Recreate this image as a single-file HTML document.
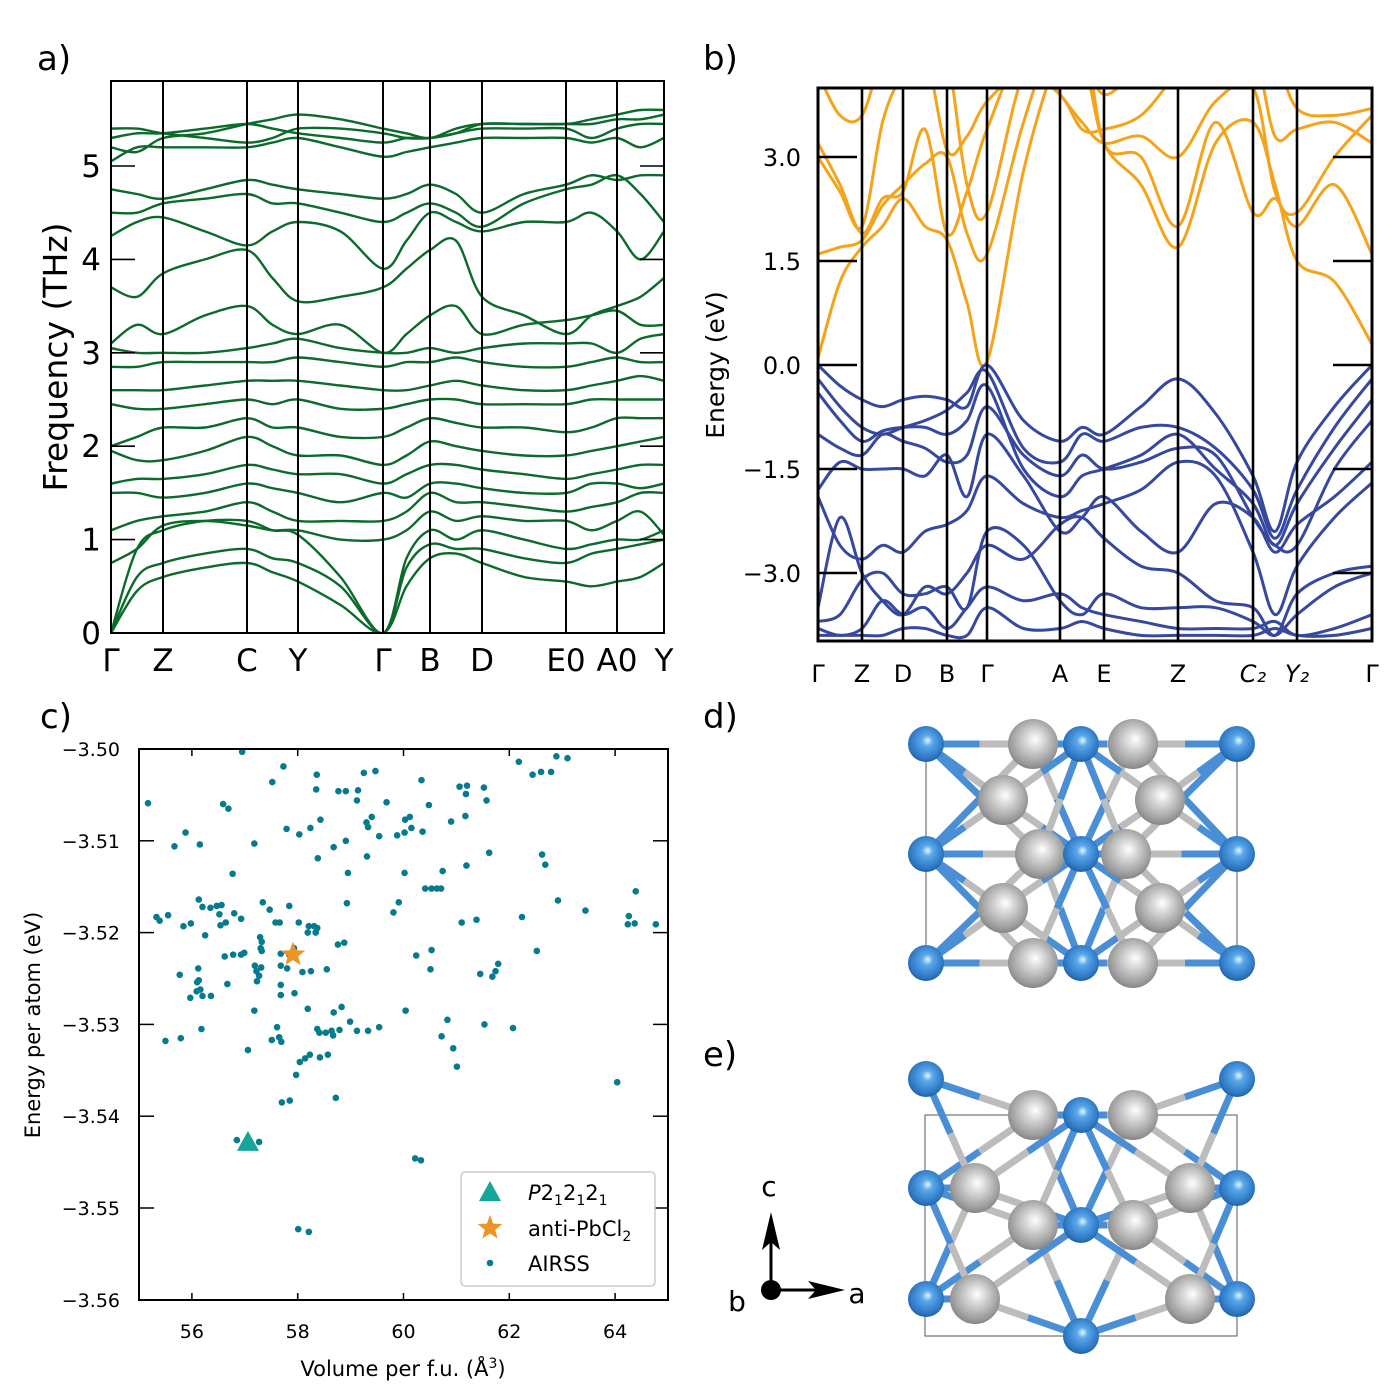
<!DOCTYPE html>
<html><head><meta charset="utf-8">
<style>
html,body{margin:0;padding:0;background:#fff;}
svg{display:block;font-family:"DejaVu Sans","Liberation Sans",sans-serif;}
</style></head>
<body>
<svg id="fig" width="1400" height="1400" viewBox="0 0 1400 1400">
<defs>
<radialGradient id="gGrey" cx="0.5" cy="0.45" r="0.6" fx="0.55" fy="0.4">
<stop offset="0" stop-color="#ffffff"/><stop offset="0.3" stop-color="#d8d8d8"/><stop offset="0.8" stop-color="#999"/><stop offset="1" stop-color="#777"/></radialGradient>
<radialGradient id="gBlue" cx="0.5" cy="0.45" r="0.6" fx="0.55" fy="0.4">
<stop offset="0" stop-color="#e8f6ff"/><stop offset="0.25" stop-color="#5aa8ec"/><stop offset="0.8" stop-color="#2a74c0"/><stop offset="1" stop-color="#1c4f8a"/></radialGradient>
<clipPath id="clipA"><rect x="111" y="81" width="553" height="552"/></clipPath>
<clipPath id="clipB"><rect x="818" y="88" width="554" height="553"/></clipPath>
<clipPath id="clipC"><rect x="139" y="749" width="529" height="551"/></clipPath>
</defs>
<g id="panelA"></g>
<g id="panelB"></g>
<g id="panelC"></g>
<g id="panelD"></g>
<g id="panelE"></g>
</svg>
<script>
// ---------- Panel a data ----------
const phLabels = ["Γ","Z","C","Y","Γ","B","D","E0","A0","Y"];
const phTicks = [0,1,2,3,4,5];
const phB1 = [0,0.45,0.6,0.7,0.75,0.65,0.55,0.3,0,0.5,0.8,0.85,0.75,0.6,0.55,0.5,0.55,0.6,0.75];
const phB2 = [0,0.6,0.75,0.85,0.9,0.8,0.75,0.5,0,0.7,0.95,0.9,0.9,0.8,0.75,0.85,0.9,0.95,1.0];
const phB3 = [0,0.9,1.1,1.2,1.2,1.1,1.05,0.6,0,0.8,1.1,1.0,1.1,1.0,0.9,0.95,1.0,1.0,1.1];
const phB4 = [0.75,0.9,1.15,1.2,1.15,1.1,1.1,1.0,1.0,1.1,1.3,1.2,1.25,1.2,1.2,1.1,1.2,1.3,1.05];
const phB5 = [1.1,1.2,1.25,1.3,1.4,1.3,1.2,1.2,1.2,1.3,1.5,1.4,1.4,1.35,1.3,1.35,1.4,1.5,1.5];
const phB6 = [1.5,1.5,1.45,1.5,1.6,1.55,1.5,1.4,1.5,1.45,1.6,1.6,1.55,1.5,1.5,1.6,1.6,1.55,1.6];
const phB7 = [1.6,1.65,1.65,1.7,1.8,1.75,1.7,1.7,1.6,1.7,1.8,1.8,1.75,1.7,1.65,1.7,1.75,1.8,1.8];
const phB8 = [1.95,1.85,1.85,1.95,2.1,2.0,1.9,1.9,1.8,1.9,2.05,2.0,1.95,1.9,1.9,1.95,2.0,2.05,2.1];
const phB9 = [2.0,2.1,2.2,2.2,2.3,2.2,2.2,2.1,2.1,2.2,2.3,2.25,2.2,2.2,2.15,2.2,2.3,2.3,2.3];
const phB10 = [2.45,2.4,2.4,2.45,2.5,2.45,2.5,2.4,2.4,2.45,2.5,2.5,2.45,2.45,2.45,2.5,2.5,2.5,2.5];
const phB11 = [2.6,2.6,2.6,2.65,2.7,2.7,2.7,2.65,2.6,2.6,2.65,2.7,2.65,2.6,2.6,2.65,2.7,2.75,2.7];
const phB12 = [2.85,2.85,2.9,2.9,2.9,2.9,2.95,2.9,2.85,2.9,2.9,2.95,2.9,2.85,2.85,2.9,2.95,2.9,2.9];
const phB13 = [3.05,3.0,3.0,3.0,3.05,3.1,3.15,3.05,3.0,3.0,3.05,3.0,3.05,3.1,3.1,3.1,3.0,3.15,3.2];
const phB14 = [3.1,3.3,3.2,3.4,3.5,3.3,3.2,3.3,3.0,3.2,3.4,3.5,3.2,3.3,3.35,3.4,3.45,3.3,3.3];
const phB15 = [3.7,3.6,3.85,4.0,4.1,3.8,3.55,3.6,3.7,3.9,4.1,4.2,3.6,3.4,3.2,3.4,3.5,3.6,3.8];
const phB16 = [4.25,4.4,4.45,4.3,4.15,4.3,4.4,4.3,3.9,4.2,4.5,4.4,4.3,4.4,4.4,4.5,4.3,4.0,4.3];
const phB17 = [4.5,4.5,4.6,4.65,4.7,4.6,4.6,4.5,4.4,4.5,4.6,4.5,4.35,4.6,4.75,4.8,4.9,4.7,4.4];
const phB18 = [4.75,4.7,4.65,4.75,4.85,4.8,4.75,4.7,4.65,4.7,4.8,4.7,4.5,4.7,4.8,4.9,4.85,4.9,4.9];
const phB19 = [5.2,5.15,5.3,5.35,5.45,5.5,5.55,5.5,5.4,5.35,5.3,5.4,5.45,5.45,5.45,5.5,5.55,5.6,5.6];
const phB20 = [5.4,5.4,5.35,5.3,5.25,5.3,5.4,5.4,5.35,5.3,5.3,5.35,5.45,5.45,5.45,5.45,5.5,5.5,5.55];
const phB21 = [5.3,5.35,5.35,5.4,5.45,5.4,5.35,5.3,5.25,5.3,5.3,5.35,5.4,5.4,5.4,5.3,5.4,5.45,5.45];
const phB22 = [5.05,5.2,5.2,5.2,5.2,5.25,5.3,5.2,5.1,5.15,5.2,5.25,5.3,5.3,5.3,5.25,5.3,5.2,5.3];

// ---------- Panel b data ----------
const bsLabels = ["Γ","Z","D","B","Γ","A","E","Z","C₂","Y₂","Γ"];
const bsTicks = [3.0,1.5,0.0,-1.5,-3.0];
const cb1 = [0.1,1.2,1.7,2.0,2.4,2.0,1.8,0.9,0.05,2.8,4.5,4.5,3.2,2.6,1.7,3.2,3.5,2.6,1.5,1.2,0.3];
const cb2 = [1.6,1.7,1.8,2.3,2.6,2.9,3.0,1.9,1.6,3.5,5,5,3.2,3.0,2.0,3.5,2.2,2.4,2.0,2.6,1.6];
const cb3 = [3.2,2.6,1.9,2.4,2.5,3.4,1.9,2.5,3.4,4.5,3.9,3.5,3.2,3.3,3.0,3.8,4.0,2.5,2.2,3.0,3.6];
const cb4 = [3.0,2.5,2.0,3.5,4.2,4.5,3.1,3.3,3.8,4.2,3.9,3.4,3.4,3.6,4.2,4.5,4.5,3.3,3.4,3.5,3.2];
const cb5 = [4.2,3.6,3.6,4.5,5,5,4.5,2.6,2.2,4.2,4.6,4.5,3.9,4.3,4.5,5,5,4.5,3.7,3.6,3.7];
const vb1 = [0.0,-0.3,-0.5,-0.6,-0.5,-0.45,-0.5,-0.6,0.0,-0.8,-1.1,-0.9,-1.0,-0.6,-0.2,-0.7,-1.6,-2.4,-1.4,-0.6,0.0];
const vb2 = [-0.2,-0.6,-0.9,-1.0,-0.9,-0.8,-0.65,-0.4,-0.1,-1.2,-1.4,-1.0,-1.1,-0.9,-0.9,-1.2,-1.8,-2.5,-1.8,-0.9,-0.2];
const vb3 = [-0.4,-0.8,-1.1,-0.95,-0.9,-0.9,-1.0,-0.8,-0.3,-1.5,-1.9,-1.6,-1.5,-1.3,-1.0,-1.5,-2.0,-2.6,-2.0,-1.2,-0.5];
const vb4 = [-1.8,-1.4,-1.5,-1.5,-1.5,-1.6,-1.3,-1.9,-1.0,-1.6,-2.4,-2.2,-1.9,-2.4,-2.7,-2.0,-2.2,-2.7,-2.3,-1.9,-1.4];
const vb5 = [-1.9,-2.6,-2.8,-2.6,-2.7,-2.4,-2.3,-2.1,-1.6,-2.0,-2.2,-2.1,-2.0,-1.8,-1.4,-1.6,-2.7,-3.6,-2.9,-2.2,-1.7];
const vb6 = [-3.5,-2.2,-3.0,-3.4,-3.6,-3.2,-3.3,-3.0,-2.6,-2.8,-2.3,-2.2,-2.5,-2.9,-3.0,-3.4,-3.5,-3.9,-3.3,-3.0,-2.9];
const vb7 = [-3.7,-3.6,-3.1,-3.0,-3.3,-3.3,-3.2,-3.5,-2.4,-2.6,-3.4,-3.6,-3.3,-3.5,-3.5,-3.5,-3.7,-3.9,-3.6,-3.2,-3.0];
const vb8 = [-3.8,-3.9,-3.8,-3.4,-3.6,-3.5,-3.8,-3.5,-3.2,-3.4,-3.3,-3.5,-3.6,-3.7,-3.8,-3.8,-3.8,-3.7,-3.9,-3.8,-3.6];
const vb9 = [-3.9,-3.9,-3.9,-3.9,-3.8,-3.8,-3.9,-3.9,-3.5,-3.8,-3.8,-3.7,-3.8,-3.9,-3.9,-3.9,-3.9,-3.8,-3.9,-3.9,-3.8];
const vb10 = [-1.0,-1.2,-1.3,-1.0,-1.1,-1.2,-1.4,-1.3,-0.6,-1.3,-1.6,-1.3,-1.5,-1.4,-1.2,-1.3,-2.2,-2.6,-2.6,-1.5,-0.8];

// ---------- Panel c data ----------
const xTicksC = [56,58,60,62,64];
const yTicksC = [-3.50,-3.51,-3.52,-3.53,-3.54,-3.55,-3.56];
const airssV = [55.17,56.95,57.73,57.52,58.36,58.35,58.77,58.91,59.14,59.25,59.47,59.12,59.68,60.34,60.48,61.06,61.20,61.18,61.52,61.57,62.18,62.44,62.60,62.79,62.89,63.10,56.59,56.69,55.88,55.67,56.15,57.18,57.79,58.03,58.24,58.43,58.68,58.91,58.38,59.31,59.30,59.33,59.40,59.54,59.88,60.02,60.03,60.12,60.15,60.36,60.90,61.17,61.62,62.62,62.68,61.19,60.74,60.02,58.95,56.77,60.41,60.53,60.63,60.71,64.39,62.92,63.44,64.26,64.24,64.37,64.77,62.24,61.38,61.10,59.91,59.81,58.93,57.84,57.34,57.47,58.02,57.58,57.66,58.21,58.31,58.37,58.19,58.34,56.13,56.20,56.35,56.47,56.56,56.52,56.80,56.93,55.55,55.33,55.39,55.98,55.84,56.54,56.64,56.25,57.29,57.32,57.30,57.32,56.99,56.93,56.78,56.62,57.68,57.93,57.84,58.76,58.88,60.24,60.53,62.52,56.12,55.77,56.13,56.10,56.16,56.09,55.97,56.20,56.36,56.67,57.19,57.31,57.22,57.27,57.23,57.68,57.80,58.09,58.25,58.55,57.68,57.68,57.94,60.51,61.45,61.68,61.74,61.79,57.18,58.19,58.68,58.83,58.99,60.04,60.83,61.53,62.07,56.18,55.79,55.50,57.61,57.51,57.65,57.69,58.37,58.41,58.53,58.64,58.67,58.79,59.12,59.33,59.54,60.72,57.06,58.04,58.14,58.23,58.42,58.57,57.97,57.70,57.85,58.72,61.01,64.04,60.22,60.33,58.01,58.21,56.85,57.27,60.94];
const airssE = [-3.5059,-3.5003,-3.5019,-3.5036,-3.5028,-3.5044,-3.5046,-3.5046,-3.5045,-3.5026,-3.5024,-3.5056,-3.5058,-3.5034,-3.5061,-3.5041,-3.5040,-3.5049,-3.5042,-3.5056,-3.5014,-3.5028,-3.5025,-3.5025,-3.5008,-3.5010,-3.5060,-3.5065,-3.5091,-3.5106,-3.5104,-3.5103,-3.5087,-3.5093,-3.5086,-3.5077,-3.5107,-3.5100,-3.5119,-3.5117,-3.5080,-3.5085,-3.5074,-3.5095,-3.5094,-3.5091,-3.5077,-3.5074,-3.5086,-3.5090,-3.5079,-3.5073,-3.5113,-3.5115,-3.5126,-3.5127,-3.5133,-3.5135,-3.5135,-3.5136,-3.5152,-3.5152,-3.5152,-3.5152,-3.5155,-3.5165,-3.5176,-3.5182,-3.5191,-3.5190,-3.5191,-3.5183,-3.5186,-3.5189,-3.5167,-3.5178,-3.5168,-3.5171,-3.5167,-3.5175,-3.5189,-3.5189,-3.5189,-3.5193,-3.5193,-3.5195,-3.5200,-3.5200,-3.5164,-3.5172,-3.5173,-3.5171,-3.5170,-3.5180,-3.5179,-3.5185,-3.5181,-3.5183,-3.5187,-3.5190,-3.5193,-3.5192,-3.5189,-3.5203,-3.5205,-3.5210,-3.5217,-3.5220,-3.5222,-3.5224,-3.5224,-3.5226,-3.5223,-3.5217,-3.5224,-3.5213,-3.5211,-3.5225,-3.5219,-3.5220,-3.5239,-3.5246,-3.5252,-3.5254,-3.5262,-3.5264,-3.5271,-3.5269,-3.5269,-3.5256,-3.5236,-3.5238,-3.5242,-3.5247,-3.5253,-3.5236,-3.5239,-3.5243,-3.5242,-3.5240,-3.5257,-3.5268,-3.5266,-3.5240,-3.5245,-3.5248,-3.5242,-3.5234,-3.5285,-3.5283,-3.5287,-3.5281,-3.5297,-3.5285,-3.5295,-3.5300,-3.5304,-3.5305,-3.5315,-3.5318,-3.5303,-3.5317,-3.5314,-3.5319,-3.5305,-3.5309,-3.5309,-3.5307,-3.5312,-3.5306,-3.5307,-3.5307,-3.5303,-3.5313,-3.5328,-3.5341,-3.5337,-3.5333,-3.5336,-3.5333,-3.5355,-3.5385,-3.5383,-3.5380,-3.5346,-3.5363,-3.5446,-3.5448,-3.5523,-3.5526,-3.5426,-3.5428,-3.5326];
const p212121V = [57.06];
const p212121E = [-3.5429];
const antiV = [57.91];
const antiE = [-3.5224];

const NS = "http://www.w3.org/2000/svg";
function mk(parent, tag, attrs, text){
  const e = document.createElementNS(NS, tag);
  for (const k in attrs) e.setAttribute(k, attrs[k]);
  if (text !== undefined) e.textContent = text;
  parent.appendChild(e);
  return e;
}
function smoothPath(pts){
  let d = "M" + pts[0][0].toFixed(1) + "," + pts[0][1].toFixed(1);
  for (let i = 0; i < pts.length - 1; i++){
    const p0 = pts[Math.max(0,i-1)], p1 = pts[i], p2 = pts[i+1], p3 = pts[Math.min(pts.length-1,i+2)];
    const c1x = p1[0] + (p2[0]-p0[0])/6, c1y = p1[1] + (p2[1]-p0[1])/6;
    const c2x = p2[0] - (p3[0]-p1[0])/6, c2y = p2[1] - (p3[1]-p1[1])/6;
    d += " C" + c1x.toFixed(1)+","+c1y.toFixed(1)+" "+c2x.toFixed(1)+","+c2y.toFixed(1)+" "+p2[0].toFixed(1)+","+p2[1].toFixed(1);
  }
  return d;
}
function kx(nodes, n){ const xs=[]; for(let i=0;i<n;i++){ const j=Math.floor(i/2); xs.push(i%2===0?nodes[j]:(nodes[j]+nodes[j+1])/2);} return xs; }

// ---------- Panel A ----------
(function(){
  const g = document.getElementById("panelA");
  const nodes = [111,163,247,298,383,430,482,566,617,664];
  const yA = f => 633 - f*93.4;
  const xs = kx(nodes, 19);
  const bands = [phB1,phB2,phB3,phB4,phB5,phB6,phB7,phB8,phB9,phB10,phB11,phB12,phB13,phB14,phB15,phB16,phB17,phB18,phB19,phB20,phB21,phB22];
  const bg = mk(g,"g",{"clip-path":"url(#clipA)"});
  bands.forEach((b,i)=>{
    const p = mk(bg,"path",{d:smoothPath(b.map((v,k)=>[xs[k],yA(v)])),fill:"none",stroke:"#0b6b2b","stroke-width":2.4});
    
    
  });
  nodes.forEach((x,i)=>{
    if(i>0 && i<nodes.length-1){
      const l = mk(g,"line",{x1:x,y1:81,x2:x,y2:633,stroke:"#000","stroke-width":2});
      
      
    }
    const t = mk(g,"text",{x:x,y:671,"font-size":31,"text-anchor":"middle"},phLabels[i]);
    
    
  });
  phTicks.forEach(v=>{
    mk(g,"line",{x1:111,y1:yA(v),x2:135,y2:yA(v),stroke:"#000","stroke-width":1.6});
    mk(g,"line",{x1:640,y1:yA(v),x2:664,y2:yA(v),stroke:"#000","stroke-width":1.6});
    const t = mk(g,"text",{x:101,y:yA(v)+11,"font-size":31,"text-anchor":"end"},String(v));
    
    
  });
  const fr = mk(g,"rect",{x:111,y:81,width:553,height:552,fill:"none",stroke:"#000","stroke-width":2});
  
  
  const yl = mk(g,"text",{x:0,y:0,"font-size":33,"text-anchor":"middle",transform:"translate(67,357) rotate(-90)"},"Frequency (THz)");
  
  
  const pl = mk(g,"text",{x:37,y:70,"font-size":34},"a)");
  
  
})();

// ---------- Panel B ----------
(function(){
  const g = document.getElementById("panelB");
  const nodes = [818,862,903,947,987,1060,1104,1178,1253,1297,1372];
  const yB = e => 365 - e*69.33;
  const xs = kx(nodes, 21);
  const bg = mk(g,"g",{"clip-path":"url(#clipB)"});
  [cb1,cb2,cb3,cb4,cb5].forEach(b=>{
    const p = mk(bg,"path",{d:smoothPath(b.map((v,k)=>[xs[k],yB(v)])),fill:"none",stroke:"#f5a31a","stroke-width":3});
    
    
  });
  [vb1,vb2,vb3,vb4,vb5,vb6,vb7,vb8,vb9,vb10].forEach(b=>{
    const p = mk(bg,"path",{d:smoothPath(b.map((v,k)=>[xs[k],yB(v)])),fill:"none",stroke:"#3748a0","stroke-width":3});
    
    
  });
  nodes.forEach((x,i)=>{
    if(i>0 && i<nodes.length-1){
      const l = mk(g,"line",{x1:x,y1:88,x2:x,y2:641,stroke:"#000","stroke-width":2.6});
      
      
    }
    const t = mk(g,"text",{x:x,y:682,"font-size":24,"text-anchor":"middle","font-style":(bsLabels[i]==="C₂"||bsLabels[i]==="Y₂")?"italic":"normal"},bsLabels[i]);
    
    
  });
  bsTicks.forEach(v=>{
    mk(g,"line",{x1:818,y1:yB(v),x2:857,y2:yB(v),stroke:"#000","stroke-width":2.6});
    mk(g,"line",{x1:1333,y1:yB(v),x2:1372,y2:yB(v),stroke:"#000","stroke-width":2.6});
    const t = mk(g,"text",{x:801,y:yB(v)+9,"font-size":24,"text-anchor":"end"},(v<0?"−":"")+Math.abs(v).toFixed(1));
    
    
  });
  const fr = mk(g,"rect",{x:818,y:88,width:554,height:553,fill:"none",stroke:"#000","stroke-width":3});
  
  
  const yl = mk(g,"text",{x:0,y:0,"font-size":25,"text-anchor":"middle",transform:"translate(724,365) rotate(-90)"},"Energy (eV)");
  
  
  const pl = mk(g,"text",{x:703,y:70,"font-size":34},"b)");
  
  
})();

// ---------- Panel C ----------
(function(){
  const g = document.getElementById("panelC");
  const xC = v => 139 + (v-55)*52.9;
  const yC = e => 749 + (-3.50 - e)*9180;
  const pg = mk(g,"g",{"clip-path":"url(#clipC)"});
  airssV.forEach((v,i)=>{
    const c = mk(pg,"circle",{cx:xC(v),cy:yC(airssE[i]),r:3.3,fill:"#067a8f"});
    
    
  });
  p212121V.forEach((v,i)=>{
    const x=xC(v), y=yC(p212121E[i]);
    const t = mk(g,"polygon",{points:`${x},${y-12} ${x-11},${y+8} ${x+11},${y+8}`,fill:"#16a596"});
    
    
  });
  function star(cx,cy,R,r){ let s=""; for(let i=0;i<10;i++){const a=-Math.PI/2+i*Math.PI/5; const rr=i%2?r:R; s+=(cx+rr*Math.cos(a)).toFixed(1)+","+(cy+rr*Math.sin(a)).toFixed(1)+" ";} return s; }
  antiV.forEach((v,i)=>{
    const s = mk(g,"polygon",{points:star(xC(v),yC(antiE[i]),13,5.5),fill:"#ec9426"});
    
    
  });
  xTicksC.forEach(v=>{
    mk(g,"line",{x1:xC(v),y1:1300,x2:xC(v),y2:1293,stroke:"#000","stroke-width":1.5});
    mk(g,"line",{x1:xC(v),y1:749,x2:xC(v),y2:756,stroke:"#000","stroke-width":1.5});
    const t = mk(g,"text",{x:xC(v),y:1338,"font-size":19,"text-anchor":"middle"},String(v));
    
    
  });
  yTicksC.forEach(v=>{
    mk(g,"line",{x1:139,y1:yC(v),x2:154,y2:yC(v),stroke:"#000","stroke-width":1.5});
    mk(g,"line",{x1:653,y1:yC(v),x2:668,y2:yC(v),stroke:"#000","stroke-width":1.5});
    const t = mk(g,"text",{x:120,y:yC(v)+7,"font-size":19,"text-anchor":"end"},"−"+Math.abs(v).toFixed(2));
    
    
  });
  const fr = mk(g,"rect",{x:139,y:749,width:529,height:551,fill:"none",stroke:"#000","stroke-width":2});
  
  
  const xl = mk(g,"text",{x:403,y:1376,"font-size":21,"text-anchor":"middle"});
  
  
  xl.innerHTML = 'Volume per f.u. (Å<tspan dy="-8" font-size="14">3</tspan><tspan dy="8">)</tspan>';
  const yl = mk(g,"text",{x:0,y:0,"font-size":21,"text-anchor":"middle",transform:"translate(40,1025) rotate(-90)"},"Energy per atom (eV)");
  
  
  const pl = mk(g,"text",{x:40,y:728,"font-size":34},"c)");
  
  
  const lg = mk(g,"g",{});
  
  
  mk(lg,"rect",{x:461,y:1172,width:194,height:114,rx:4,fill:"#fff",stroke:"#ccc","stroke-width":1.5});
  mk(lg,"polygon",{points:"490,1181 479,1201 501,1201",fill:"#16a596"});
  mk(lg,"polygon",{points:star(490,1228,13,5.5),fill:"#ec9426"});
  mk(lg,"circle",{cx:490,cy:1263,r:3.3,fill:"#067a8f"});
  const e1 = mk(lg,"text",{x:528,y:1200,"font-size":21});
  
  
  e1.innerHTML = '<tspan font-style="italic">P</tspan>2<tspan dy="5" font-size="14">1</tspan><tspan dy="-5">2</tspan><tspan dy="5" font-size="14">1</tspan><tspan dy="-5">2</tspan><tspan dy="5" font-size="14">1</tspan>';
  const e2 = mk(lg,"text",{x:528,y:1236,"font-size":21});
  
  
  e2.innerHTML = 'anti-PbCl<tspan dy="5" font-size="14">2</tspan>';
  const e3 = mk(lg,"text",{x:528,y:1271,"font-size":21},"AIRSS");
  
  
})();

// ---------- Structures ----------
function drawStructure(gid, blue, grey, cell, label, ly){
  const g = document.getElementById(gid);
  mk(g,"rect",{x:cell[0],y:cell[1],width:cell[2],height:cell[3],fill:"none",stroke:"#555","stroke-width":1});
  grey.forEach(a=>{
    blue.forEach(b=>{
      const d = Math.hypot(a[0]-b[0],a[1]-b[1]);
      if(d>20 && d<160){
        const mx=(a[0]+b[0])/2, my=(a[1]+b[1])/2;
        mk(g,"line",{x1:a[0],y1:a[1],x2:mx,y2:my,stroke:"#bcbcbc","stroke-width":7});
        mk(g,"line",{x1:mx,y1:my,x2:b[0],y2:b[1],stroke:"#4a8fd6","stroke-width":7});
      }
    });
  });
  grey.forEach(a=>{
    const c = mk(g,"circle",{cx:a[0],cy:a[1],r:25,fill:"url(#gGrey)"});
    
    
  });
  blue.forEach(b=>{
    const c = mk(g,"circle",{cx:b[0],cy:b[1],r:18,fill:"url(#gBlue)"});
    
    
  });
  const pl = mk(g,"text",{x:703,y:ly,"font-size":34},label);
  
  
}
drawStructure("panelD",
  [[926,744],[1081,744],[1237,744],[926,854],[1081,854],[1237,854],[926,963],[1081,963],[1237,963]],
  [[1033,744],[1133,744],[1003,800],[1160,800],[1040,854],[1126,854],[1003,908],[1160,908],[1033,963],[1133,963]],
  [926,744,311,219],"d)",728);
drawStructure("panelE",
  [[926,1079],[1237,1079],[1081,1115],[926,1188],[1237,1188],[1081,1225],[926,1299],[1237,1299],[1081,1336]],
  [[1033,1115],[1133,1115],[975,1188],[1190,1188],[1033,1225],[1133,1225],[975,1299],[1190,1299]],
  [925,1115,312,221],"e)",1066);
(function(){
  const g = document.getElementById("panelE");
  const ax = mk(g,"g",{});
  
  
  mk(ax,"line",{x1:771,y1:1290,x2:771,y2:1230,stroke:"#000","stroke-width":3});
  mk(ax,"polygon",{points:"771,1212 762,1250 771,1242 780,1250",fill:"#000"});
  mk(ax,"line",{x1:771,y1:1290,x2:825,y2:1290,stroke:"#000","stroke-width":3});
  mk(ax,"polygon",{points:"845,1290 808,1281 816,1290 808,1299",fill:"#000"});
  mk(ax,"circle",{cx:771,cy:1290,r:10,fill:"#000"});
  mk(ax,"text",{x:769,y:1196,"font-size":28,"text-anchor":"middle"},"c");
  mk(ax,"text",{x:737,y:1311,"font-size":28,"text-anchor":"middle"},"b");
  mk(ax,"text",{x:857,y:1303,"font-size":28,"text-anchor":"middle"},"a");
})();
</script>
</body></html>
